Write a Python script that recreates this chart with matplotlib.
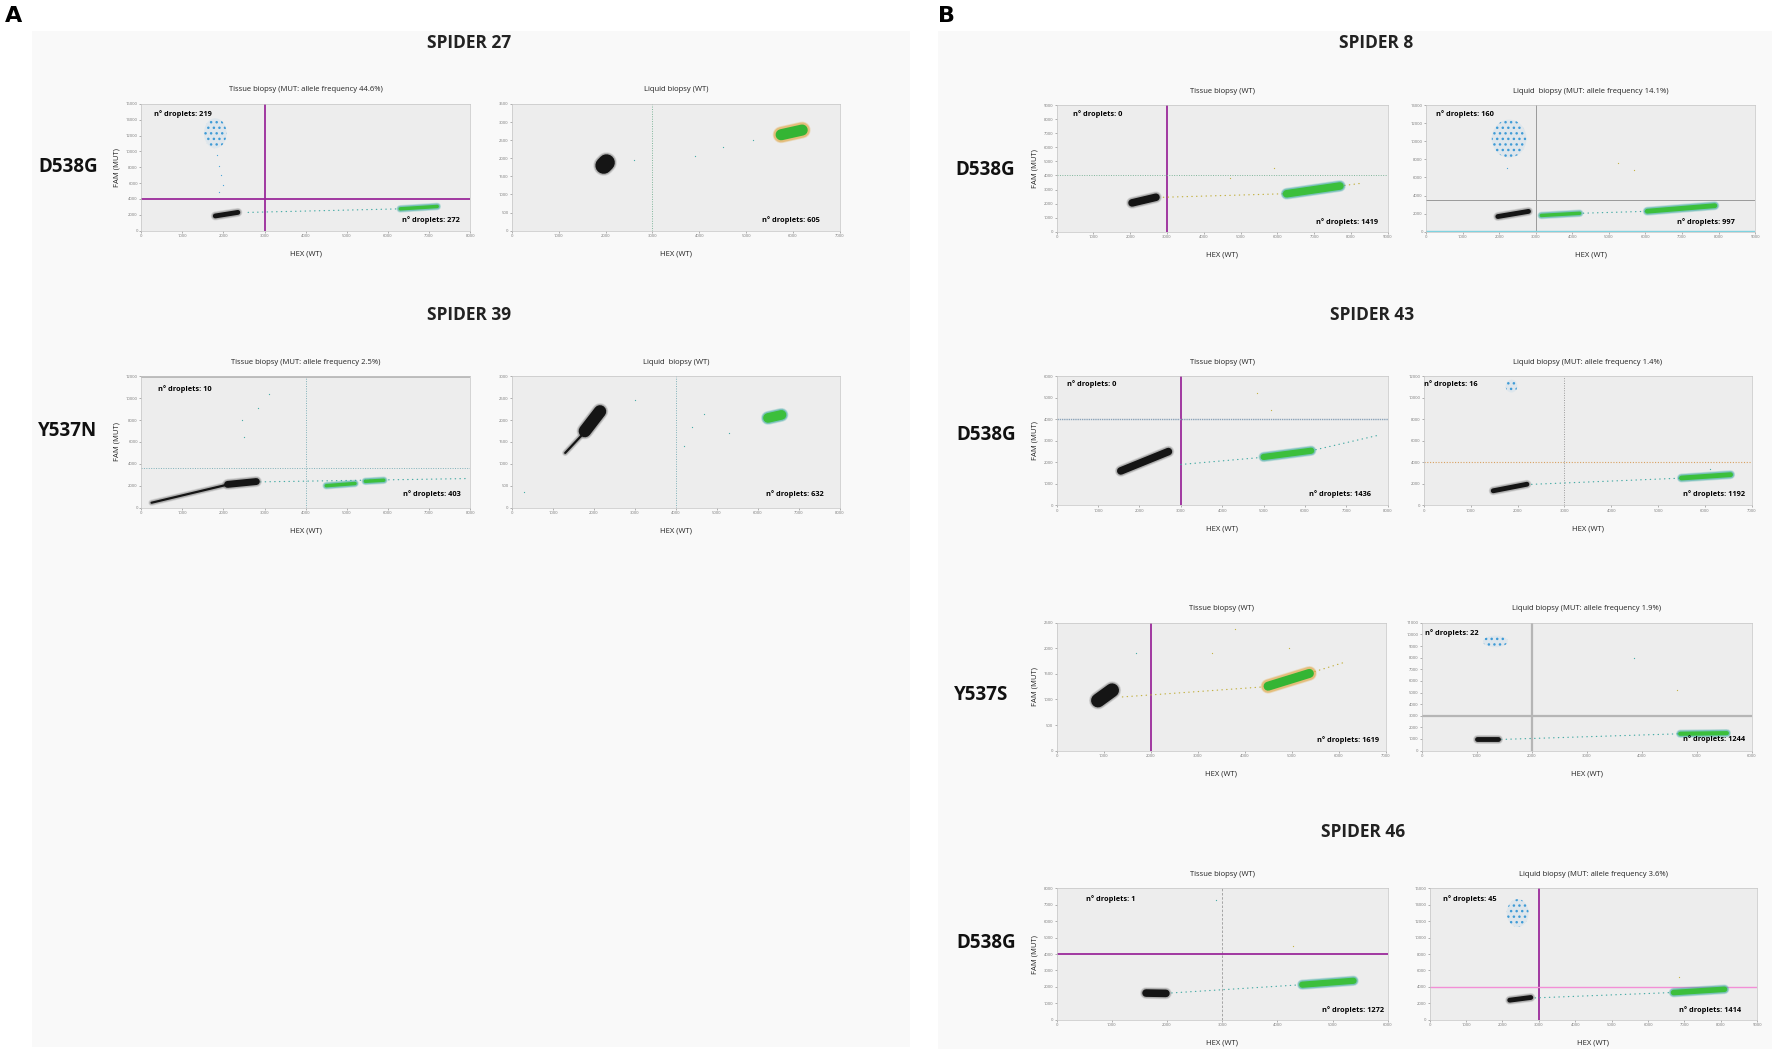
import matplotlib
matplotlib.use("Agg")
import matplotlib.pyplot as plt
from matplotlib.patches import Ellipse, Rectangle

plt.rcParams["font.family"] = ["Open Sans", "DejaVu Sans"]

# ---- data -------------------------------------------------------------
group_titles = ["SPIDER 27", "SPIDER 39", "SPIDER 8", "SPIDER 43", "SPIDER 46"]
mutations = ["D538G", "Y537N", "D538G", "D538G", "Y537S", "D538G"]

panel_titles = [
    "Tissue biopsy (MUT: allele frequency 44.6%)", "Liquid biopsy (WT)",
    "Tissue biopsy (MUT: allele frequency 2.5%)", "Liquid  biopsy (WT)",
    "Tissue biopsy (WT)", "Liquid  biopsy (MUT: allele frequency 14.1%)",
    "Tissue biopsy (WT)", "Liquid biopsy (MUT: allele frequency 1.4%)",
    "Tissue biopsy (WT)", "Liquid biopsy (MUT: allele frequency 1.9%)",
    "Tissue biopsy (WT)", "Liquid biopsy (MUT: allele frequency 3.6%)",
]
upper_counts = [219, None, 10, None, 0, 160, 0, 16, None, 22, 1, 45]
lower_counts = [272, 605, 403, 632, 1419, 997, 1436, 1192, 1619, 1244, 1272, 1414]

x_max = [8000, 7000, 8000, 8000, 9000, 9000, 8000, 7000, 7000, 6000, 6000, 9000]
y_max = [16000, 3500, 12000, 3000, 9000, 14000, 6000, 12000, 2500, 11000, 8000, 16000]
y_step = [2000, 500, 2000, 500, 1000, 2000, 1000, 2000, 500, 1000, 1000, 2000]
thr_x = [3000, 3000, 4000, 4000, 3000, 3000, 3000, 3000, 2000, 2000, 3000, 3000]
thr_y = [4000, None, 3600, None, 4000, 3500, 4000, 4000, None, 3000, 4000, 4000]

# dense droplet clusters: (panel, x0, y0, x1, y1, kind)
blob_panel = [0, 0, 1, 1, 2, 2, 2, 2, 3, 3, 3, 4, 4, 5, 5, 5, 6, 6, 7, 7, 8, 8, 9, 9, 10, 10, 11, 11]
blob_x0 = [1800, 6300, 1960, 5750, 250, 2100, 4500, 5450, 1300, 1780, 6250, 2050, 6250, 1960, 3150, 6050,
           1550, 5000, 1480, 5500, 880, 4500, 1000, 4700, 1620, 4450, 2200, 6700]
blob_y0 = [1850, 2750, 1800, 2650, 440, 2120, 2000, 2400, 1250, 1750, 2050, 2050, 2700, 1680, 1800, 2270,
           1600, 2250, 1350, 2540, 980, 1260, 960, 1450, 1620, 2130, 2370, 3300]
blob_x1 = [2350, 7200, 2020, 6200, 2100, 2800, 5200, 5900, 1700, 2150, 6580, 2700, 7700, 2800, 4200, 7900,
           2700, 6150, 2200, 6550, 1180, 5380, 1380, 5550, 1980, 5380, 2780, 8100]
blob_y1 = [2300, 3050, 1880, 2780, 2100, 2380, 2200, 2500, 1650, 2200, 2120, 2450, 3250, 2250, 2040, 2880,
           2500, 2540, 1960, 2850, 1180, 1510, 960, 1500, 1600, 2370, 2700, 3700]
blob_kind = ["neg", "wt", "neg", "dp", "neg", "neg", "wt", "wt", "neg", "neg", "wt", "neg", "wt", "neg",
             "wt", "wt", "neg", "wt", "neg", "wt", "neg", "dp", "neg", "wt", "neg", "wt", "neg", "wt"]
blob_lw = [3.5, 2.5, 12, 8, 1.6, 5, 2.5, 2.5, 1.6, 9, 7, 5.5, 5.5, 3.5, 2.5, 3.5, 5.5, 4.5, 3.5, 3.5,
           10, 6.5, 3.5, 3, 5.5, 4.5, 3.5, 4]

# droplet "rain" between clusters
rain_panel = [0, 2, 4, 4, 5, 6, 6, 7, 8, 8, 9, 10, 11]
rain_x0 = [2600, 2900, 2900, 7700, 4300, 3000, 6150, 2300, 1400, 5400, 1450, 2000, 2900]
rain_y0 = [2300, 2350, 2450, 3250, 2050, 1900, 2540, 1950, 1050, 1520, 960, 1610, 2650]
rain_x1 = [6300, 7900, 6200, 8300, 6000, 4900, 7750, 5450, 4450, 6100, 4650, 4400, 6650]
rain_y1 = [2750, 2650, 2700, 3450, 2250, 2220, 3250, 2520, 1250, 1720, 1440, 2120, 3300]
rain_kind = ["wt", "wt", "dp", "dp", "wt", "wt", "wt", "wt", "dp", "dp", "wt", "wt", "wt"]

# sparse FAM+ (mutant) clusters
spot_panel = [0, 5, 7, 9, 11]
spot_x = [1800, 2270, 1870, 1340, 2420]
spot_y = [12300, 10300, 11100, 9400, 13000]
spot_w = [550, 950, 250, 450, 600]
spot_h = [3800, 4200, 1200, 1000, 3400]

# single stray droplets
stray_panel = [0, 0, 0, 0, 0, 1, 1, 1, 1, 2, 2, 2, 2, 3, 3, 3, 3, 3, 3, 4, 4, 5, 5, 5,
               6, 6, 7, 8, 8, 8, 8, 9, 9, 10, 10, 11]
stray_x = [1850, 1900, 1950, 2000, 1900, 3900, 4500, 5150, 2600, 2440, 2500, 2830, 3100,
           3000, 4700, 4400, 5300, 4200, 300, 5900, 4700, 5240, 5700, 2200,
           4830, 5190, 6100, 3800, 4950, 1680, 3300, 4650, 3860, 2880, 4280, 6850]
stray_y = [9500, 8200, 7000, 5800, 4900, 2050, 2300, 2500, 1950, 8000, 6500, 9100, 10400,
           2450, 2150, 1850, 1700, 1400, 350, 4500, 3800, 7600, 6850, 7000,
           5250, 4450, 3400, 2380, 2010, 1900, 1900, 5200, 7950, 7300, 4500, 5200]
stray_kind = ["mut", "mut", "mut", "mut", "mut", "wt", "wt", "wt", "wt", "wt", "wt", "wt", "wt",
              "wt", "wt", "wt", "wt", "wt", "wt", "dp", "dp", "dp", "dp", "mut",
              "dp", "dp", "wt", "dp", "dp", "wt", "dp", "dp", "wt", "wt", "dp", "dp"]

# ---- layout / style -------------------------------------------------------
W, H = 1568, 928  # layout grid used for placing things
axes_boxes = [
    (125, 92, 416, 204), (453, 92, 743, 204),
    (125, 333, 416, 449), (453, 333, 743, 449),
    (935, 93, 1228, 205), (1262, 93, 1553, 205),
    (935, 333, 1228, 447), (1260, 333, 1550, 447),
    (935, 551, 1226, 664), (1258, 551, 1550, 664),
    (935, 786, 1228, 902), (1265, 786, 1555, 902),
]
upper_pos = [(0.04, 0.92), None, (0.05, 0.90), None, (0.05, 0.93), (0.03, 0.93),
             (0.03, 0.94), (0.0, 0.94), None, (0.01, 0.92), (0.09, 0.92), (0.04, 0.92)]
lower_pos = [(0.97, 0.08), (0.94, 0.08), (0.97, 0.10), (0.95, 0.10), (0.97, 0.08), (0.94, 0.08),
             (0.95, 0.09), (0.98, 0.09), (0.98, 0.08), (0.98, 0.09), (0.99, 0.07), (0.95, 0.07)]
thr_x_style = ["purple", "dotgreen", "dotteal", "dotteal", "purple", "gray", "purple", "dotgray",
               "purple", "thick", "dash", "purple"]
thr_y_style = ["purple", None, "dotteal", None, "dotgreen", "gray", "grayblue", "dotorange",
               None, "thick", "purple", "pink"]
line_styles = {
    "purple": dict(color="#9a2a9a", lw=1.3, ls="-"),
    "pink": dict(color="#f28fd6", lw=1.0, ls="-"),
    "gray": dict(color="#9a9a9a", lw=0.7, ls="-"),
    "thick": dict(color="#b5b5b5", lw=1.6, ls="-"),
    "grayblue": dict(color="#8aa2b8", lw=1.0, ls=(0, (1, 0.6))),
    "dotgreen": dict(color="#7fb59a", lw=0.7, ls=(0, (1, 1.5))),
    "dotteal": dict(color="#7fb0b8", lw=0.7, ls=(0, (1, 1.5))),
    "dotgray": dict(color="#9a9a9a", lw=0.7, ls=(0, (1, 1.5))),
    "dotorange": dict(color="#d8a060", lw=0.8, ls=(0, (1, 1.5))),
    "dash": dict(color="#9a9a9a", lw=0.6, ls=(0, (3, 2))),
}
core_color = {"neg": "#151515", "wt": "#3cbf3c", "dp": "#34b534"}
halo_color = {"neg": "#8a8a8a", "wt": "#39a9a0", "dp": "#e0a238"}
dot_color = {"neg": "#8a8a8a", "wt": "#44aaa4", "dp": "#c2b040", "mut": "#4aa3d8"}

fig = plt.figure(figsize=(17.72, 10.49), dpi=100)
fig.patch.set_facecolor("white")
bg = fig.add_axes([0, 0, 1, 1], zorder=-10)
bg.set_xlim(0, W)
bg.set_ylim(H, 0)
bg.axis("off")
bg.add_patch(Rectangle((28, 27), 805 - 28, 926 - 27, facecolor="#f9f9f9", edgecolor="none"))
bg.add_patch(Rectangle((830, 27), W - 830, H - 27, facecolor="#f9f9f9", edgecolor="none"))

fig.text(0.003, 1 - 14 / H, "A", fontsize=16, fontweight="bold", family="DejaVu Sans", va="center")
fig.text(830 / W, 1 - 14 / H, "B", fontsize=16, fontweight="bold", family="DejaVu Sans", va="center")

group_pos = [(415, 38), (415, 279), (1218, 38), (1214, 279), (1206, 736)]
for t, (gx, gy) in zip(group_titles, group_pos):
    fig.text(gx / W, 1 - gy / H, t, fontsize=12.5, fontweight="bold", ha="center", va="center", color="#222")

mut_pos = [(60, 148), (60, 381), (872, 150), (873, 385), (868, 615), (873, 834)]
for t, (mx, my) in zip(mutations, mut_pos):
    fig.text(mx / W, 1 - my / H, t, fontsize=13.5, fontweight="bold", ha="center", va="center", color="#111")

axes = []
for i, (x0, y0, x1, y1) in enumerate(axes_boxes):
    ax = fig.add_axes([x0 / W, 1 - y1 / H, (x1 - x0) / W, (y1 - y0) / H])
    ax.set_facecolor("#ededed")
    ax.set_xlim(0, x_max[i])
    ax.set_ylim(0, y_max[i])
    ax.set_xticks(range(0, x_max[i] + 1, 1000))
    ax.set_yticks(range(0, y_max[i] + 1, y_step[i]))
    ax.tick_params(labelsize=3, length=1.5, width=0.4, colors="#777", pad=1)
    for s in ax.spines.values():
        s.set_color("#c4c4c4")
        s.set_linewidth(0.5)
    ax.set_title(panel_titles[i], fontsize=5.5, pad=9, color="#222")
    ax.set_xlabel("HEX (WT)", fontsize=5.5, labelpad=9, color="#222")
    if i % 2 == 0:
        ax.set_ylabel("FAM (MUT)", fontsize=5.5, labelpad=4, color="#222")

    if thr_x[i] is not None:
        ax.axvline(thr_x[i], zorder=1, **line_styles[thr_x_style[i]])
    if thr_y[i] is not None:
        ax.axhline(thr_y[i], zorder=1, **line_styles[thr_y_style[i]])
    if upper_counts[i] is not None:
        ux, uy = upper_pos[i]
        ax.text(ux, uy, f"n° droplets: {upper_counts[i]}", transform=ax.transAxes,
                fontsize=5.3, fontweight="bold", va="center", ha="left", zorder=6)
    lx, ly = lower_pos[i]
    ax.text(lx, ly, f"n° droplets: {lower_counts[i]}", transform=ax.transAxes,
            fontsize=5.3, fontweight="bold", va="center", ha="right", zorder=6)
    axes.append(ax)

# extra threshold lines seen on the plate reader exports
axes[5].axhline(120, color="#7fd3e0", lw=1.0, zorder=1)
axes[2].axhline(y_max[2], color="#b5b5b5", lw=2.0, zorder=1)

for p, x0, y0, x1, y1, k in zip(rain_panel, rain_x0, rain_y0, rain_x1, rain_y1, rain_kind):
    axes[p].plot([x0, x1], [y0, y1], color=dot_color[k], lw=0.9, ls=(0, (0.3, 3.5)),
                 dash_capstyle="round", zorder=2)

for p, x, y, k in zip(stray_panel, stray_x, stray_y, stray_kind):
    axes[p].plot(x, y, "o", ms=0.9, color=dot_color[k], mec="none", zorder=3)

for p, x, y, w, h in zip(spot_panel, spot_x, spot_y, spot_w, spot_h):
    ax = axes[p]
    ax.add_patch(Ellipse((x, y), w, h, facecolor="#9ccbe8", alpha=0.18, edgecolor="none", zorder=3))
    ax.add_patch(Ellipse((x, y), w, h, facecolor="none", edgecolor="#3f9bd6", lw=0,
                         hatch="...", zorder=3))

for p, x0, y0, x1, y1, k, lw in zip(blob_panel, blob_x0, blob_y0, blob_x1, blob_y1, blob_kind, blob_lw):
    ax = axes[p]
    extra = 3.0 if k == "dp" else 1.8
    ax.plot([x0, x1], [y0, y1], color=halo_color[k], lw=lw + extra + 1.2, alpha=0.25,
            solid_capstyle="round", zorder=4)
    ax.plot([x0, x1], [y0, y1], color=halo_color[k], lw=lw + extra, alpha=0.5,
            solid_capstyle="round", zorder=4)
    ax.plot([x0, x1], [y0, y1], color=core_color[k], lw=lw, solid_capstyle="round", zorder=5)

fig.savefig("out.png", dpi=100)
